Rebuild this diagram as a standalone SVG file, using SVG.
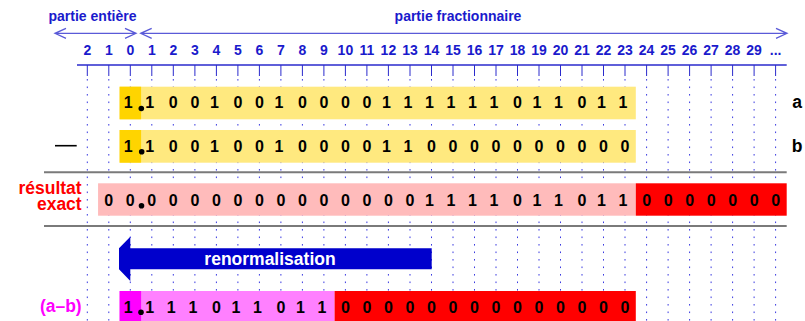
<svg xmlns="http://www.w3.org/2000/svg" width="805" height="321" viewBox="0 0 805 321">
  <defs>
    <style>
      .hdr { font-family: "Liberation Sans", Arial, sans-serif; font-weight: bold; fill: #1a1acc; }
      .col { font-family: "Liberation Sans", Arial, sans-serif; font-weight: bold; font-size: 14px; fill: #1a1acc; text-anchor: middle; }
      .dig { font-family: "Liberation Sans", Arial, sans-serif; font-weight: bold; font-size: 16px; fill: #000; text-anchor: middle; }
      .lbl { font-family: "Liberation Sans", Arial, sans-serif; font-weight: bold; font-size: 17.5px; }
      .arw { stroke: #5a5ad8; stroke-width: 1.3; fill: none; }
      .tick { stroke: #2a2acc; stroke-width: 1; }
      .dots { stroke: #3a3ae0; stroke-width: 1; stroke-dasharray: 1.6 5.9; }
      .sep { stroke: #7a7a7a; stroke-width: 2; }
    </style>
  </defs>
  <rect width="805" height="321" fill="#fff"/>

  <!-- range arrows and titles -->
  <g id="header">
    <text class="hdr" x="92.5" y="21" font-size="14" text-anchor="middle">partie entière</text>
    <text class="hdr" x="458" y="21" font-size="14" text-anchor="middle">partie fractionnaire</text>
    <path class="arw" d="M55 33.3 H136 M66 28.3 L55 33.3 L66 38.3 M125 28.3 L136 33.3 L125 38.3"/>
    <path class="arw" d="M140.7 33.3 H787 M151.7 28.3 L140.7 33.3 L151.7 38.3 M776 28.3 L787 33.3 L776 38.3"/>
  </g>

  <!-- bit position scale -->
  <g id="scale">
    <line x1="77" y1="65" x2="786.7" y2="65" stroke="#2a2acc" stroke-width="1.3"/>
    <g class="col">
      <text x="87.3" y="55">2</text><text x="108.8" y="55">1</text><text x="130.3" y="55">0</text>
      <text x="151.8" y="55">1</text><text x="173.3" y="55">2</text><text x="194.9" y="55">3</text>
      <text x="216.4" y="55">4</text><text x="237.9" y="55">5</text><text x="259.4" y="55">6</text>
      <text x="280.9" y="55">7</text><text x="302.4" y="55">8</text><text x="323.9" y="55">9</text>
      <text x="345.4" y="55">10</text><text x="366.9" y="55">11</text><text x="388.4" y="55">12</text>
      <text x="410" y="55">13</text><text x="431.5" y="55">14</text><text x="453" y="55">15</text>
      <text x="474.5" y="55">16</text><text x="496" y="55">17</text><text x="517.5" y="55">18</text>
      <text x="539" y="55">19</text><text x="560.5" y="55">20</text><text x="582" y="55">21</text>
      <text x="603.5" y="55">22</text><text x="625" y="55">23</text><text x="646.6" y="55">24</text>
      <text x="668.1" y="55">25</text><text x="689.6" y="55">26</text><text x="711.1" y="55">27</text>
      <text x="732.6" y="55">28</text><text x="754.1" y="55">29</text><text x="775.6" y="55">...</text>
    </g>
    <path class="tick" d="M87.3 65V76M108.8 65V76M130.3 65V76M151.8 65V76M173.3 65V76M194.9 65V76M216.4 65V76M237.9 65V76M259.4 65V76M280.9 65V76M302.4 65V76M323.9 65V76M345.4 65V76M366.9 65V76M388.4 65V76M410 65V76M431.5 65V76M453 65V76M474.5 65V76M496 65V76M517.5 65V76M539 65V76M560.5 65V76M582 65V76M603.5 65V76M625 65V76M646.6 65V76M668.1 65V76M689.6 65V76M711.1 65V76M732.6 65V76M754.1 65V76M775.6 65V76"/>
    <path class="dots" d="M87.3 79V321M108.8 79V321M130.3 79V321M151.8 79V321M173.3 79V321M194.9 79V321M216.4 79V321M237.9 79V321M259.4 79V321M280.9 79V321M302.4 79V321M323.9 79V321M345.4 79V321M366.9 79V321M388.4 79V321M410 79V321M431.5 79V321M453 79V321M474.5 79V321M496 79V321M517.5 79V321M539 79V321M560.5 79V321M582 79V321M603.5 79V321M625 79V321M646.6 79V321M668.1 79V321M689.6 79V321M711.1 79V321M732.6 79V321M754.1 79V321M775.6 79V321"/>
  </g>

  <!-- operand a -->
  <g id="row-a">
    <rect x="119.6" y="86.7" width="516.2" height="32.6" fill="#ffe97f"/>
    <rect x="119.6" y="86.7" width="21.5" height="32.6" fill="#ffd400"/>
    <text class="dig" y="108.3" x="128.3 149.8 173.3 194.9 214.4 237.9 259.4 278.9 302.4 323.9 345.4 366.9 386.4 408 429.5 451 472.5 494 517.5 537 558.5 582 601.5 623">110010010000111111011011</text>
    <circle cx="141.3" cy="108.5" r="2.8" fill="#000"/>
    <text class="lbl" x="797" y="108.3" text-anchor="middle" fill="#000">a</text>
  </g>

  <!-- operand b -->
  <g id="row-b">
    <line x1="55" y1="145.7" x2="76.7" y2="145.7" stroke="#000" stroke-width="1.6"/>
    <rect x="119.6" y="130" width="516.2" height="32.7" fill="#ffe97f"/>
    <rect x="119.6" y="130" width="21.5" height="32.7" fill="#ffd400"/>
    <text class="dig" y="151.7" x="128.3 149.8 173.3 194.9 214.4 237.9 259.4 278.9 302.4 323.9 345.4 366.9 386.4 408 431.5 453 474.5 496 517.5 539 560.5 582 603.5 625">110010010000110000000000</text>
    <circle cx="141.7" cy="151.7" r="2.8" fill="#000"/>
    <text class="lbl" x="797" y="151.7" text-anchor="middle" fill="#000">b</text>
  </g>

  <line class="sep" x1="44" y1="172.3" x2="786.7" y2="172.3"/>

  <!-- exact difference -->
  <g id="row-exact">
    <text class="lbl" x="81.7" y="193.5" text-anchor="end" font-size="17" fill="#ff0000">résultat</text>
    <text class="lbl" x="81.7" y="210" text-anchor="end" font-size="17" fill="#ff0000">exact</text>
    <rect x="98.05" y="183.3" width="537.75" height="32.4" fill="#ffbbbb"/>
    <rect x="635.8" y="183.3" width="150.9" height="32.4" fill="#ff0000"/>
    <text class="dig" y="205.5" x="108.8 130.3 151.8 173.3 194.9 216.4 237.9 259.4 280.9 302.4 323.9 345.4 366.9 388.4 410 429.5 451 472.5 494 517.5 537 558.5 582 601.5 623 646.6 668.1 689.6 711.1 732.6 754.1 775.6">00000000000000011110110110000000</text>
    <circle cx="141.5" cy="205.7" r="2.8" fill="#000"/>
  </g>

  <line class="sep" x1="44" y1="226" x2="786.7" y2="226"/>

  <!-- left shift arrow -->
  <g id="renorm">
    <polygon points="119,248.3 130.3,236.7 130.3,248.3 431.7,248.3 431.7,269.3 130.3,269.3 130.3,281 119,269.3" fill="#0000cc"/>
    <text class="lbl" x="270" y="265" text-anchor="middle" font-size="17.8" fill="#fff">renormalisation</text>
  </g>

  <!-- normalised result -->
  <g id="row-result">
    <text class="lbl" x="81.7" y="312" text-anchor="end" fill="#ff00ff">(a–b)</text>
    <rect x="119.6" y="291" width="215" height="30" fill="#ff80ff"/>
    <rect x="119.6" y="291" width="21.5" height="30" fill="#ff00ff"/>
    <rect x="334.6" y="291" width="301.2" height="30" fill="#ff0000"/>
    <text class="dig" y="313.3" x="128.3 149.8 171.3 192.9 216.4 235.9 257.4 280.9 300.4 321.9 345.4 366.9 388.4 410 431.5 453 474.5 496 517.5 539 560.5 582 603.5 625">111101101100000000000000</text>
    <circle cx="141" cy="312.3" r="2.8" fill="#000"/>
  </g>
</svg>
